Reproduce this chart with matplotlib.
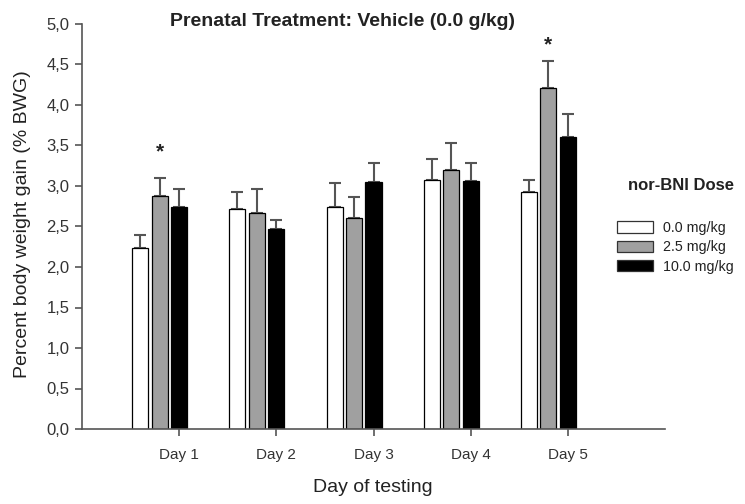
import matplotlib
matplotlib.use("Agg")
import matplotlib.pyplot as plt
import numpy as np
from matplotlib.patches import Patch

plt.rcParams['font.family'] = ['Liberation Sans', 'DejaVu Sans']

days = ["Day 1", "Day 2", "Day 3", "Day 4", "Day 5"]
doses = ["0.0 mg/kg", "2.5 mg/kg", "10.0 mg/kg"]
mean_0 = [2.23, 2.71, 2.74, 3.08, 2.92]
mean_25 = [2.88, 2.67, 2.61, 3.20, 4.21]
mean_10 = [2.74, 2.47, 3.05, 3.06, 3.61]
sem_0 = [0.17, 0.22, 0.30, 0.25, 0.15]
sem_25 = [0.22, 0.29, 0.26, 0.33, 0.33]
sem_10 = [0.22, 0.11, 0.23, 0.22, 0.28]
star_days = [1, 5]
star_y = [3.42, 4.74]

means = [mean_0, mean_25, mean_10]
sems = [sem_0, sem_25, sem_10]
fills = ["white", "#a0a0a0", "black"]

fig = plt.figure(figsize=(7.45, 5.04), dpi=100)
ax = fig.add_axes([82/745, 1-429/504, (665-82)/745, (429-24)/504])

x = np.arange(1, len(days) + 1)
width = 0.165
step = 0.2
offsets = [-2*step, -step, 0]
for m, s, c, off in zip(means, sems, fills, offsets):
    ax.bar(x + off, m, width=width, color=c, edgecolor="black", linewidth=0.9, zorder=2)
    ax.errorbar(x + off, m, yerr=[np.zeros(len(s)), s], fmt="none", ecolor="#555555",
                elinewidth=1.5, capsize=4.5, capthick=1.5, zorder=1)

for d, yy in zip(star_days, star_y):
    ax.text(d - step, yy, "*", ha="center", va="center", fontsize=15, fontweight="bold", color="#222222")

ax.set_xlim(0, 6)
ax.set_ylim(0, 5)
ax.set_xticks(x)
ax.set_xticklabels(days, fontsize=11)
yt = np.arange(0, 5.01, 0.5)
ax.set_yticks(yt)
ax.set_yticklabels([f"{v:.1f}".replace(".", ",") for v in yt], fontsize=12)
for sp in ["top", "right"]:
    ax.spines[sp].set_visible(False)
for sp in ["left", "bottom"]:
    ax.spines[sp].set_color("#555555")
    ax.spines[sp].set_linewidth(1.2)
ax.tick_params(axis="both", direction="out", length=5, width=1.2, color="#555555",
               labelcolor="#333333")
ax.tick_params(axis="x", pad=9)
ax.tick_params(axis="y", pad=4)

fig.text(23/745, 1-224/504, "Percent body weight gain (% BWG)", ha="center", va="center",
         rotation=90, fontsize=14, color="#222222")
fig.text(373/745, 1-488/504, "Day of testing", ha="center", va="center", fontsize=14, color="#222222")
fig.text(343/745, 1-26/504, "Prenatal Treatment: Vehicle (0.0 g/kg)", ha="center", va="baseline",
         fontsize=14, fontweight="bold", color="#222222")
fig.text(681/745, 1-185/504, "nor-BNI Dose", ha="center", va="center",
         fontsize=12, fontweight="bold", color="#222222")

handles = [Patch(facecolor=c, edgecolor="#333333", linewidth=0.9) for c in fills]
fig.legend(handles, doses, loc="upper left", bbox_to_anchor=(617/745, 1-221/504),
           frameon=False, borderpad=0, borderaxespad=0, handlelength=2.5, handleheight=0.85,
           handletextpad=0.7, labelspacing=0.37, fontsize=10.3, labelcolor="#222222")

fig.savefig("out.png", dpi=100)
